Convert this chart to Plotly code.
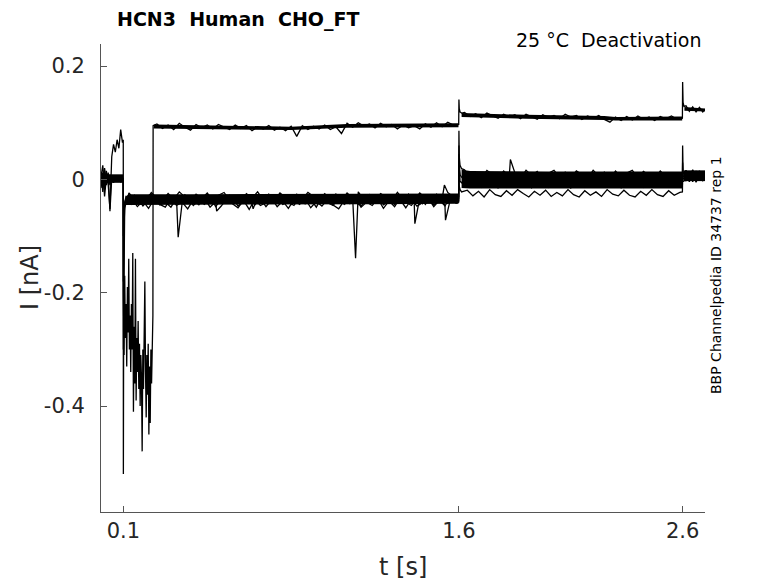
import plotly.graph_objects as go

# sample times of each protocol segment [s]
T_PRE = [0.000, 0.008, 0.016, 0.024, 0.032, 0.040, 0.048, 0.056, 0.064, 0.072, 0.080, 0.088, 0.096]
T_ON = [0.0995, 0.100, 0.102, 0.106, 0.112]
T_TRANS = [0.0995, 0.100, 0.103, 0.106, 0.109, 0.112, 0.115, 0.118, 0.121, 0.124, 0.127,
           0.130, 0.133, 0.136, 0.139, 0.142, 0.145, 0.148, 0.151, 0.154, 0.157, 0.160,
           0.163, 0.166, 0.169, 0.172, 0.175, 0.178, 0.181, 0.184, 0.187, 0.190, 0.193,
           0.196, 0.199, 0.202, 0.205, 0.208, 0.211, 0.214, 0.217, 0.220, 0.223, 0.226,
           0.229, 0.232, 0.233]
T_HOLD_A = [0.125, 0.150, 0.175, 0.200, 0.225, 0.250, 0.275, 0.300, 0.325, 0.350, 0.375,
            0.400, 0.425, 0.450, 0.475, 0.500, 0.525, 0.550, 0.575, 0.600, 0.625, 0.650,
            0.675, 0.700, 0.725, 0.750, 0.775, 0.800, 0.825, 0.850, 0.875, 0.900, 0.925,
            0.950, 0.975, 1.000, 1.025, 1.050, 1.075, 1.100, 1.125, 1.150, 1.175, 1.200,
            1.225, 1.250, 1.275, 1.300, 1.325, 1.350, 1.375, 1.400, 1.425, 1.450, 1.475,
            1.500, 1.525, 1.550, 1.575]
T_HOLD_B = [0.1375, 0.1625, 0.1875, 0.2125, 0.2375, 0.2625, 0.2875, 0.3125, 0.3375, 0.3625,
            0.3875, 0.4125, 0.4375, 0.4625, 0.4875, 0.5125, 0.5375, 0.5625, 0.5875, 0.6125,
            0.6375, 0.6625, 0.6875, 0.7125, 0.7375, 0.7625, 0.7875, 0.8125, 0.8375, 0.8625,
            0.8875, 0.9125, 0.9375, 0.9625, 0.9875, 1.0125, 1.0375, 1.0625, 1.0875, 1.1125,
            1.1375, 1.1625, 1.1875, 1.2125, 1.2375, 1.2625, 1.2875, 1.3125, 1.3375, 1.3625,
            1.3875, 1.4125, 1.4375, 1.4625, 1.4875, 1.5125, 1.5375, 1.5625, 1.5875]
T_STEP1 = [1.599, 1.600, 1.6015, 1.605, 1.612]
T_TEST_A = [1.625, 1.650, 1.675, 1.700, 1.725, 1.750, 1.775, 1.800, 1.825, 1.850, 1.875,
            1.900, 1.925, 1.950, 1.975, 2.000, 2.025, 2.050, 2.075, 2.100, 2.125, 2.150,
            2.175, 2.200, 2.225, 2.250, 2.275, 2.300, 2.325, 2.350, 2.375, 2.400, 2.425,
            2.450, 2.475, 2.500, 2.525, 2.550, 2.575]
T_TEST_B = [1.6375, 1.6625, 1.6875, 1.7125, 1.7375, 1.7625, 1.7875, 1.8125, 1.8375, 1.8625,
            1.8875, 1.9125, 1.9375, 1.9625, 1.9875, 2.0125, 2.0375, 2.0625, 2.0875, 2.1125,
            2.1375, 2.1625, 2.1875, 2.2125, 2.2375, 2.2625, 2.2875, 2.3125, 2.3375, 2.3625,
            2.3875, 2.4125, 2.4375, 2.4625, 2.4875, 2.5125, 2.5375, 2.5625, 2.5875]
T_STEP2 = [2.599, 2.600, 2.602, 2.606]
T_TAIL = [2.615, 2.630, 2.645, 2.660, 2.675, 2.690, 2.700]

# leaky sweep (upper trace), current [nA]
TOP_PRE = [0.005, 0.025, -0.018, 0.015, -0.008, -0.052, 0.040, 0.062, 0.048, 0.070, 0.055, 0.088, 0.065]
TOP_TRANS = [0.070, -0.20, -0.31, -0.17, -0.28, -0.22, -0.33, -0.19, -0.27, -0.14, -0.30,
             -0.24, -0.34, -0.22, -0.30, -0.13, -0.41, -0.26, -0.36, -0.14, -0.39,
             -0.28, -0.34, -0.25, -0.37, -0.29, -0.40, -0.31, -0.35, -0.48, -0.30,
             -0.37, -0.27, -0.18, -0.34, -0.42, -0.31, -0.38, -0.29, -0.45, -0.33,
             -0.43, -0.30, -0.36, -0.30, -0.24, 0.095]
TOP_HOLD = [0.098, 0.090, 0.096, 0.088, 0.099, 0.092, 0.087, 0.097, 0.091, 0.096,
            0.089, 0.097, 0.093, 0.088, 0.096, 0.090, 0.095, 0.086, 0.093, 0.089,
            0.095, 0.087, 0.092, 0.086, 0.094, 0.076, 0.095, 0.088, 0.094, 0.089,
            0.096, 0.088, 0.093, 0.081, 0.099, 0.092, 0.100, 0.094, 0.098, 0.091,
            0.099, 0.093, 0.097, 0.089, 0.096, 0.091, 0.095, 0.089, 0.098, 0.092,
            0.100, 0.093, 0.101, 0.096]
TOP_STEP1 = [0.097, 0.141, 0.125, 0.119, 0.117]
TOP_TEST = [0.118, 0.111, 0.116, 0.109, 0.117, 0.112, 0.108, 0.115, 0.110, 0.114,
            0.107, 0.115, 0.111, 0.106, 0.114, 0.109, 0.113, 0.107, 0.115, 0.110,
            0.113, 0.106, 0.112, 0.108, 0.113, 0.106, 0.101, 0.110, 0.104, 0.111,
            0.105, 0.112, 0.106, 0.110, 0.104, 0.111, 0.107, 0.112, 0.106]
TOP_STEP2 = [0.108, 0.172, 0.136, 0.129]
TOP_TAIL = [0.130, 0.120, 0.128, 0.119, 0.127, 0.119, 0.124]

# remaining sweeps, one row per sweep, current [nA]
SWEEP_GRID = ["A", "B", "A", "B"]
PRE_BOTTOM = [
    [0.002, -0.010, 0.008, -0.004, 0.006, -0.002, 0.004, -0.006, 0.003, -0.003, 0.005, -0.002, 0.001],
    [-0.008, 0.012, -0.030, 0.004, 0.010, -0.056, 0.002, -0.004, 0.006, -0.002, 0.003, -0.005, 0.002],
    [0.010, -0.022, 0.015, -0.010, 0.000, 0.008, -0.005, 0.003, -0.003, 0.004, -0.002, 0.002, -0.001],
    [-0.015, 0.004, 0.020, -0.006, 0.012, -0.010, 0.002, 0.004, -0.004, 0.001, -0.003, 0.004, 0.000],
]
ON_BOTTOM = [
    [0.001, -0.52, -0.09, -0.050, -0.040],
    [0.002, -0.30, -0.12, -0.045, -0.038],
    [-0.001, -0.18, -0.07, -0.042, -0.033],
    [0.000, -0.10, -0.06, -0.040, -0.030],
]
HOLD_BOTTOM = [
    [-0.024, -0.036, -0.029, -0.038, -0.023, -0.033, -0.037, -0.025, -0.035, -0.022,
     -0.031, -0.038, -0.026, -0.034, -0.024, -0.037, -0.028, -0.023, -0.036, -0.030,
     -0.038, -0.025, -0.033, -0.022, -0.036, -0.029, -0.037, -0.024, -0.032, -0.038,
     -0.026, -0.035, -0.023, -0.030, -0.037, -0.025, -0.034, -0.028, -0.038, -0.024,
     -0.033, -0.022, -0.036, -0.027, -0.037, -0.025, -0.031, -0.038, -0.023, -0.035,
     -0.028, -0.036, -0.024, -0.033, -0.038, -0.026, -0.034, -0.023, -0.031],
    [-0.044, -0.032, -0.047, -0.036, -0.030, -0.045, -0.040, -0.049, -0.033, -0.042,
     -0.031, -0.046, -0.037, -0.044, -0.030, -0.048, -0.035, -0.041, -0.032, -0.047,
     -0.039, -0.031, -0.045, -0.034, -0.048, -0.036, -0.030, -0.044, -0.040, -0.046,
     -0.032, -0.043, -0.035, -0.049, -0.031, -0.041, -0.046, -0.033, -0.044, -0.037,
     -0.030, -0.047, -0.034, -0.042, -0.031, -0.045, -0.038, -0.048, -0.032, -0.040,
     -0.046, -0.033, -0.043, -0.030, -0.045, -0.036, -0.047, -0.031, -0.040],
    [-0.040, -0.028, -0.043, -0.031, -0.026, -0.041, -0.035, -0.044, -0.029, -0.038,
     -0.027, -0.042, -0.033, -0.040, -0.026, -0.044, -0.030, -0.037, -0.028, -0.041,
     -0.034, -0.027, -0.043, -0.031, -0.039, -0.026, -0.042, -0.036, -0.029, -0.044,
     -0.032, -0.040, -0.027, -0.038, -0.043, -0.030, -0.041, -0.026, -0.036, -0.042,
     -0.029, -0.044, -0.033, -0.027, -0.040, -0.031, -0.043, -0.028, -0.037, -0.041,
     -0.026, -0.039, -0.032, -0.044, -0.029, -0.038, -0.027, -0.042, -0.033],
    [-0.034, -0.048, -0.038, -0.051, -0.035, -0.044, -0.049, -0.033, -0.046, -0.040,
     -0.052, -0.036, -0.045, -0.033, -0.049, -0.039, -0.047, -0.034, -0.043, -0.050,
     -0.037, -0.053, -0.035, -0.046, -0.041, -0.033, -0.048, -0.038, -0.051, -0.036,
     -0.044, -0.034, -0.050, -0.039, -0.047, -0.035, -0.045, -0.052, -0.037, -0.043,
     -0.033, -0.049, -0.040, -0.046, -0.034, -0.051, -0.038, -0.044, -0.036, -0.050,
     -0.035, -0.047, -0.041, -0.033, -0.048, -0.037, -0.045, -0.034, -0.042],
]
STEP1_BOTTOM = [
    [-0.030, 0.086, 0.040, 0.025, 0.019],
    [-0.038, 0.060, 0.020, 0.008, 0.004],
    [-0.033, 0.045, 0.005, -0.003, -0.006],
    [-0.040, 0.030, -0.012, -0.018, -0.022],
]
TEST_BOTTOM = [
    [0.017, 0.004, 0.013, 0.002, 0.016, 0.008, 0.001, 0.015, 0.005, 0.012,
     0.002, 0.016, 0.007, 0.014, 0.001, 0.011, 0.016, 0.004, 0.013, 0.003,
     0.015, 0.008, 0.002, 0.016, 0.006, 0.013, 0.001, 0.015, 0.004, 0.011,
     0.016, 0.003, 0.014, 0.007, 0.001, 0.015, 0.005, 0.012, 0.010],
    [-0.006, 0.007, -0.002, 0.008, -0.005, 0.004, -0.007, 0.006, 0.000, 0.008,
     -0.004, 0.005, -0.006, 0.008, -0.001, 0.006, -0.007, 0.003, 0.008, -0.005,
     0.006, -0.002, 0.008, -0.006, 0.004, -0.004, 0.007, -0.007, 0.002, 0.008,
     -0.005, 0.005, -0.003, 0.008, -0.006, 0.004, -0.001, 0.007, 0.002],
    [-0.001, -0.012, -0.004, -0.014, 0.000, -0.010, -0.015, -0.003, -0.011, -0.001,
     -0.013, -0.006, -0.015, -0.002, -0.009, -0.014, 0.000, -0.012, -0.005, -0.015,
     -0.002, -0.011, -0.014, -0.003, -0.010, 0.000, -0.013, -0.006, -0.015, -0.002,
     -0.012, -0.004, -0.014, -0.001, -0.009, -0.013, -0.003, -0.011, -0.008],
    [-0.019, -0.029, -0.021, -0.031, -0.018, -0.027, -0.030, -0.020, -0.028, -0.018,
     -0.025, -0.031, -0.021, -0.028, -0.019, -0.030, -0.023, -0.029, -0.018, -0.027,
     -0.031, -0.020, -0.028, -0.022, -0.030, -0.018, -0.026, -0.029, -0.019, -0.028,
     -0.031, -0.021, -0.028, -0.018, -0.027, -0.030, -0.020, -0.028, -0.023],
]
STEP2_BOTTOM = [
    [0.011, 0.060, 0.015, 0.008],
    [0.003, 0.030, 0.008, 0.004],
    [-0.009, 0.015, 0.002, 0.000],
    [-0.022, 0.005, -0.004, -0.003],
]
TAIL_BOTTOM = [
    [0.016, 0.002, 0.017, 0.003, 0.015, 0.004, 0.012],
    [-0.003, 0.012, -0.004, 0.013, -0.002, 0.011, 0.004],
    [0.010, -0.004, 0.011, -0.005, 0.009, -0.003, 0.006],
    [0.001, 0.014, 0.000, 0.015, 0.002, 0.012, 0.005],
]
# isolated spikes: (sweep index, t [s], I [nA])
SPIKES = [
    (1, 0.345, -0.102), (3, 0.517, -0.056), (2, 0.680, -0.052),
    (0, 1.138, -0.139), (2, 1.403, -0.078), (0, 1.535, -0.010),
    (3, 1.540, -0.072), (0, 1.830, 0.035),
]

# dense noise core of the traces: time, upper and lower edge [nA]
CORE_PRE_T = [0.004, 0.0995]
CORE_PRE_HI = [0.009, 0.009]
CORE_PRE_LO = [-0.006, -0.006]
CORE_HOLD_T = [0.110, 0.125, 0.400, 0.800, 1.200, 1.598]
CORE_HOLD_HI = [-0.030, -0.026, -0.026, -0.026, -0.025, -0.025]
CORE_HOLD_LO = [-0.045, -0.045, -0.045, -0.044, -0.044, -0.043]
CORE_TEST_T = [1.612, 1.650, 2.000, 2.300, 2.598]
CORE_TEST_HI = [0.017, 0.015, 0.014, 0.014, 0.014]
CORE_TEST_LO = [-0.015, -0.016, -0.016, -0.016, -0.016]
CORE_TAIL_T = [2.606, 2.700]
CORE_TAIL_HI = [0.016, 0.016]
CORE_TAIL_LO = [-0.003, -0.003]
CORE_TOP_HOLD_T = [0.236, 0.600, 0.850, 1.100, 1.598]
CORE_TOP_HOLD_HI = [0.097, 0.095, 0.093, 0.098, 0.099]
CORE_TOP_HOLD_LO = [0.090, 0.089, 0.087, 0.091, 0.092]
CORE_TOP_TEST_T = [1.612, 1.900, 2.250, 2.300, 2.598]
CORE_TOP_TEST_HI = [0.117, 0.114, 0.112, 0.110, 0.111]
CORE_TOP_TEST_LO = [0.110, 0.107, 0.105, 0.104, 0.104]
CORE_TOP_TAIL_T = [2.608, 2.700]
CORE_TOP_TAIL_HI = [0.128, 0.125]
CORE_TOP_TAIL_LO = [0.121, 0.120]

X_TICKS = [0.1, 1.6, 2.6]
Y_TICKS = [-0.4, -0.2, 0, 0.2]
Y_TICK_TEXT = ["-0.4", "-0.2", "0", "0.2"]

FONT = "DejaVu Sans"
INK = "#262626"
TRACE_WIDTH = 1.3

GRIDS = {"A": (T_HOLD_A, T_TEST_A), "B": (T_HOLD_B, T_TEST_B)}
CORES = [
    (CORE_PRE_T, CORE_PRE_HI, CORE_PRE_LO),
    (CORE_HOLD_T, CORE_HOLD_HI, CORE_HOLD_LO),
    (CORE_TEST_T, CORE_TEST_HI, CORE_TEST_LO),
    (CORE_TAIL_T, CORE_TAIL_HI, CORE_TAIL_LO),
    (CORE_TOP_HOLD_T, CORE_TOP_HOLD_HI, CORE_TOP_HOLD_LO),
    (CORE_TOP_TEST_T, CORE_TOP_TEST_HI, CORE_TOP_TEST_LO),
    (CORE_TOP_TAIL_T, CORE_TOP_TAIL_HI, CORE_TOP_TAIL_LO),
]


def merge(parts, extra=()):
    pts = []
    for ts, vs in parts:
        pts.extend(zip(ts, vs))
    pts.extend(extra)
    pts.sort(key=lambda p: p[0])
    return [p[0] for p in pts], [p[1] for p in pts]


# page pixel -> paper coordinates (plot area spans x 101..705, y 44..512 on the page)
def px(x):
    return (x - 101) / 604


def py(y):
    return (512 - y) / 468


fig = go.Figure()

# solid cores first, the sweeps are drawn on top of them
for t, hi, lo in CORES:
    fig.add_trace(go.Scatter(x=t, y=lo, mode="lines", line=dict(width=0, color="black"),
                             hoverinfo="skip", showlegend=False))
    fig.add_trace(go.Scatter(x=t, y=hi, mode="lines", line=dict(width=0, color="black"),
                             fill="tonexty", fillcolor="black",
                             hoverinfo="skip", showlegend=False))

for i in range(len(PRE_BOTTOM)):
    t_hold, t_test = GRIDS[SWEEP_GRID[i]]
    extra = [(t, v) for k, t, v in SPIKES if k == i]
    xs, ys = merge([(T_PRE, PRE_BOTTOM[i]), (T_ON, ON_BOTTOM[i]), (t_hold, HOLD_BOTTOM[i]),
                    (T_STEP1, STEP1_BOTTOM[i]), (t_test, TEST_BOTTOM[i]),
                    (T_STEP2, STEP2_BOTTOM[i]), (T_TAIL, TAIL_BOTTOM[i])], extra)
    fig.add_trace(go.Scatter(x=xs, y=ys, mode="lines",
                             line=dict(color="black", width=TRACE_WIDTH),
                             hoverinfo="skip", showlegend=False))

xs, ys = merge([(T_PRE, TOP_PRE), (T_TRANS, TOP_TRANS), (T_HOLD_A[5:], TOP_HOLD),
                (T_STEP1, TOP_STEP1), (T_TEST_A, TOP_TEST), (T_STEP2, TOP_STEP2),
                (T_TAIL, TOP_TAIL)])
fig.add_trace(go.Scatter(x=xs, y=ys, mode="lines", line=dict(color="black", width=TRACE_WIDTH),
                         hoverinfo="skip", showlegend=False))

axis_style = dict(showgrid=False, zeroline=False, showline=True, linecolor="#555555",
                  linewidth=1, ticks="inside", ticklen=6, tickcolor="#555555",
                  tickfont=dict(family=FONT, size=21, color=INK), mirror=False)

fig.update_xaxes(range=[0, 2.7], tickvals=X_TICKS, ticktext=["0.1", "1.6", "2.6"],
                 ticklabelstandoff=0, **axis_style)
fig.update_yaxes(range=[-0.587, 0.239], tickvals=Y_TICKS, ticktext=Y_TICK_TEXT,
                 ticklabelstandoff=11, **axis_style)

annotations = [
    dict(text="<b>HCN3\u00a0\u00a0Human\u00a0\u00a0CHO_FT</b>", x=px(115), y=py(20),
         xanchor="left", yanchor="middle", font=dict(size=19, color="black")),
    dict(text="25 \u00b0C\u00a0\u00a0Deactivation", x=px(703), y=py(40),
         xanchor="right", yanchor="middle", font=dict(size=19, color="black")),
    dict(text="BBP Channelpedia ID 34737 rep 1", x=px(716), y=py(275), textangle=-90,
         xanchor="center", yanchor="middle", font=dict(size=14, color="black")),
    dict(text="I [nA]", x=px(30), y=py(278), textangle=-90,
         xanchor="center", yanchor="middle", font=dict(size=24, color=INK)),
    dict(text="t [s]", x=px(403), y=py(567),
         xanchor="center", yanchor="middle", font=dict(size=24, color=INK)),
]
for a in annotations:
    a.update(xref="paper", yref="paper", showarrow=False)
    a["font"]["family"] = FONT

# the page body keeps its default 8px margin, so the figure is 8px smaller than the window
fig.update_layout(
    width=770, height=575,
    margin=dict(l=93, r=73, t=36, b=71),
    paper_bgcolor="white", plot_bgcolor="white",
    annotations=annotations,
    font=dict(family=FONT),
)

fig.write_html("out.html")
